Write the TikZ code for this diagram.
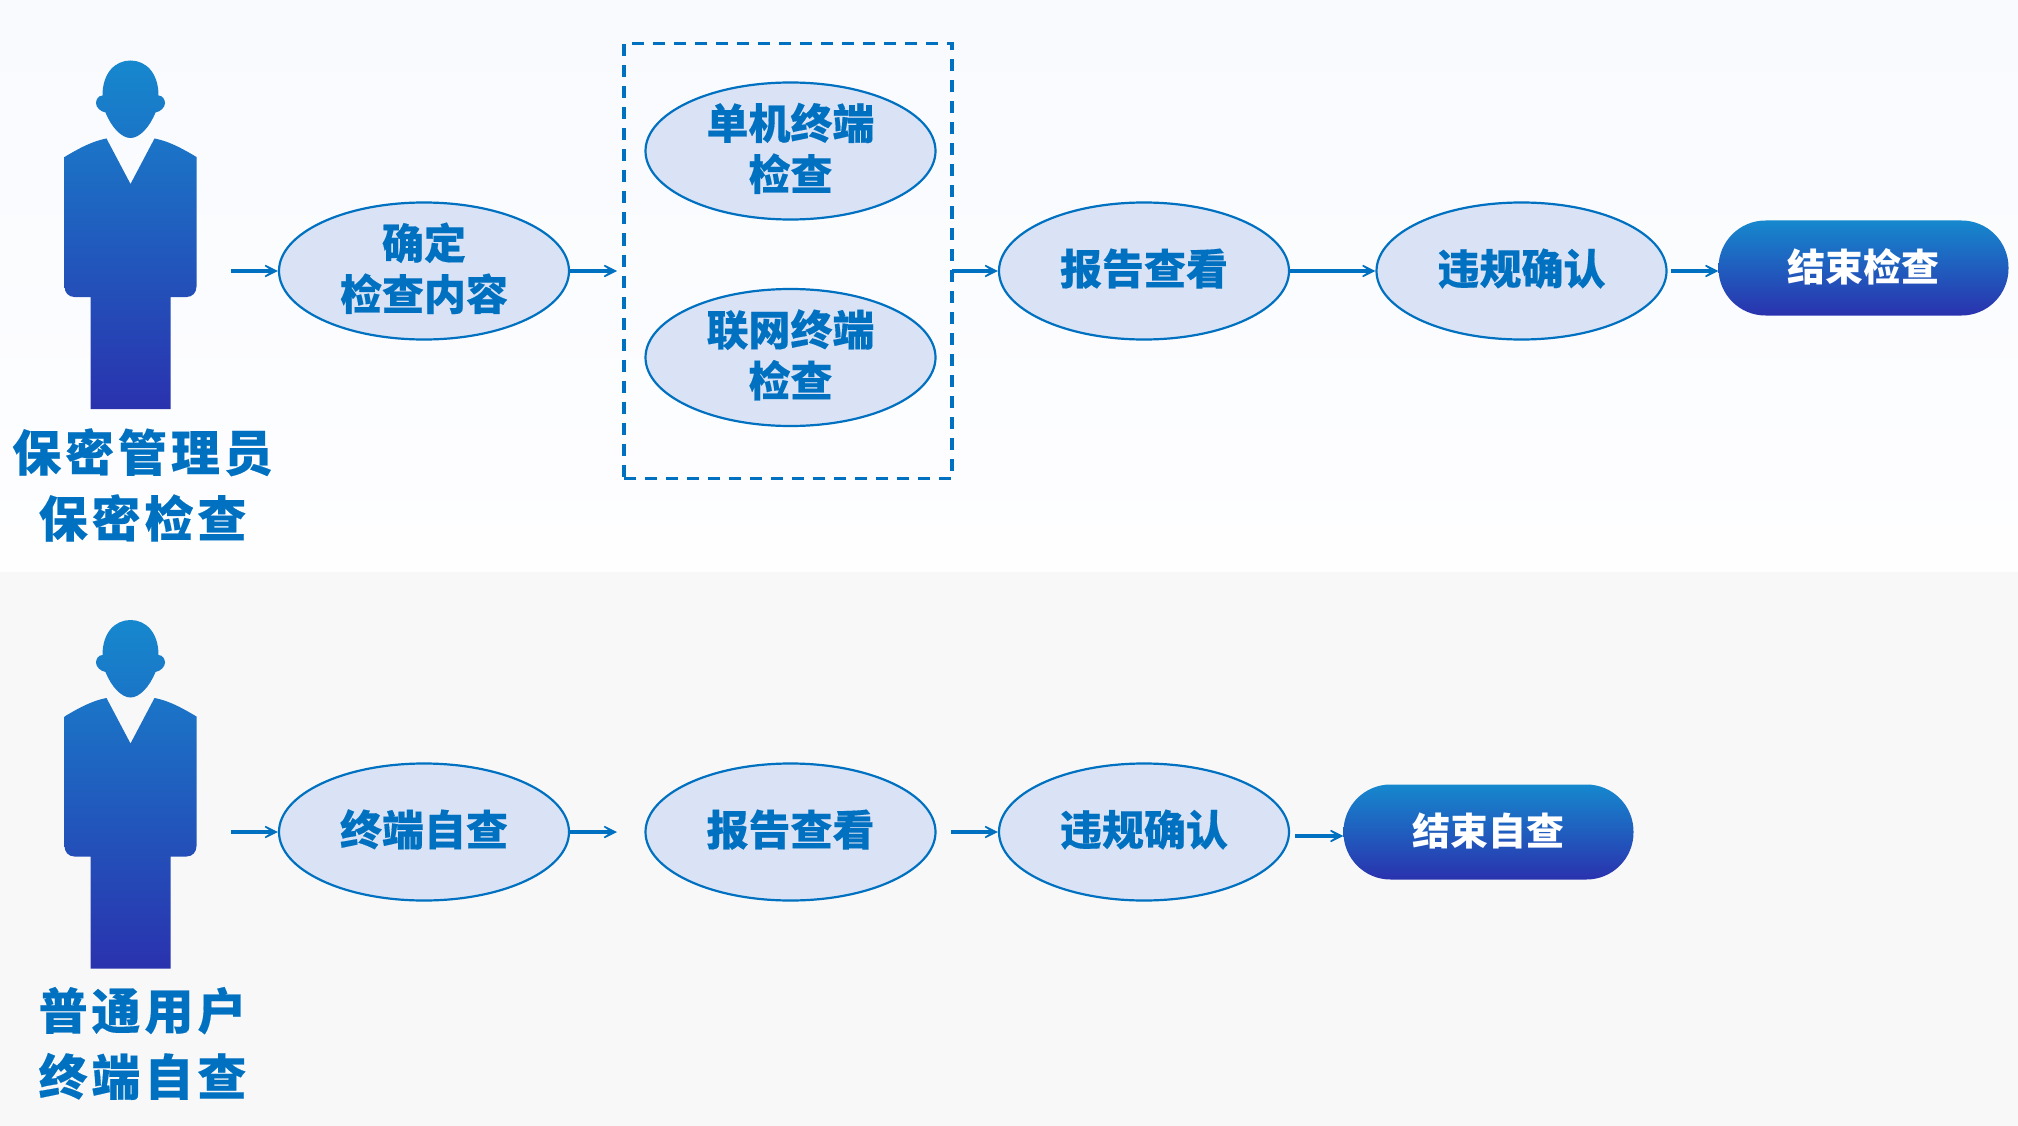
\documentclass[tikz,border=0pt]{standalone}
\usepackage{fontspec}
\setmainfont{Noto Sans CJK SC}
\usetikzlibrary{arrows.meta,shapes.geometric}
\definecolor{blu}{HTML}{0070C0}
\definecolor{ovfill}{HTML}{DAE3F5}
\definecolor{gtop}{HTML}{1688CE}
\definecolor{gbot}{HTML}{2A32AE}
\definecolor{bgA}{HTML}{F8FAFE}
\definecolor{bgB}{HTML}{FEFEFF}
\definecolor{bgC}{HTML}{F8F8F8}
\tikzset{
  ovl/.style={ellipse,draw=blu,line width=2.2pt,fill=ovfill,minimum width=290pt,minimum height=137pt,inner sep=0pt,inner ysep=-32pt,text=blu,align=center,text height=30pt,text depth=3pt,font=\fontsize{42}{51}\selectfont\bfseries\addfontfeature{FakeBold=0.3}},
  ovltwo/.style={ovl,text height=80pt,text depth=2pt},
  pill/.style={rectangle,rounded corners=47pt,top color=gtop,bottom color=gbot,minimum width=290pt,minimum height=95pt,inner sep=0pt,text=white,text height=30pt,text depth=4pt,font=\fontsize{38}{46}\selectfont\bfseries},
  tag/.style={inner sep=0pt,text=blu,align=center,font=\fontsize{49}{66}\selectfont\bfseries\addfontfeature{LetterSpace=8,FakeBold=0.3}},
  flow/.style={draw=blu,line width=3.5pt,-{Stealth[length=22pt,width=22pt,inset=16pt]}},
  dashbox/.style={draw=blu,line width=3.2pt,dash pattern=on 12pt off 9pt},
  person/.pic={
    \shade[top color=gtop,bottom color=gbot]
      (-28,35) .. controls (-28,12) and (-15,0) .. (0,0) .. controls (15,0) and (28,12) .. (28,35)
      .. controls (32,35) and (34.5,39) .. (34.5,42.5) .. controls (34.5,47) and (30,51) .. (25,52)
      .. controls (19,67) and (9,77.5) .. (0,77.5) .. controls (-9,77.5) and (-19,67) .. (-25,52)
      .. controls (-30,51) and (-34.5,47) .. (-34.5,42.5) .. controls (-34.5,39) and (-32,35) .. (-28,35) -- cycle
      (-24,78) -- (0,123.5) -- (24,78) .. controls (40,81) and (55,90) .. (66,96.5)
      -- (66,226) .. controls (66,232) and (62,236.5) .. (56,236.5) -- (40,236.5) -- (40,348.5) -- (-40,348.5) -- (-40,236.5) -- (-56,236.5)
      .. controls (-62,236.5) and (-66,232) .. (-66,226) -- (-66,96.5) .. controls (-55,90) and (-40,81) .. (-24,78) -- cycle;
  }
}
\begin{document}
\begin{tikzpicture}[x=1pt,y=-1pt]
\useasboundingbox (0,0) rectangle (2018,1126);
\shade[top color=bgA,bottom color=bgB] (0,0) rectangle (2018,572);
\fill[bgC] (0,572) rectangle (2018,1126);

\pic at (130.5,60.5) {person};
\pic at (130.5,620) {person};
\node[tag] (t1) at (142.5,485) {保密管理员\\保密检查};
\node[tag] (t2) at (142.5,1043.5) {普通用户\\终端自查};

% top row
\node[dashbox,rectangle,minimum width=328pt,minimum height=435pt,inner sep=0pt] (box) at (788,261) {};
\node[ovltwo] (a1) at (424,271) {确定\\检查内容};
\node[ovltwo] (a2) at (790.5,151) {单机终端\\检查};
\node[ovltwo] (a3) at (790.5,357.5) {联网终端\\检查};
\node[ovl] (a4) at (1144,271) {报告查看};
\node[ovl] (a5) at (1521.5,271) {违规确认};
\node[pill] (a6) at (1863.5,268) {结束检查};
\coordinate (s1) at (231,271);
\coordinate (e2) at (617,271);
\coordinate (s3) at (952,271);
\coordinate (s5) at (1671,271);
\draw[flow] (s1) -- (a1.west);
\draw[flow] (a1.east) -- (e2);
\draw[flow] (s3) -- (a4.west);
\draw[flow] (a4.east) -- (a5.west);
\draw[flow] (s5) -- (a6.west |- s5);

% bottom row
\node[ovl] (b1) at (424,832) {终端自查};
\node[ovl] (b2) at (790.5,832) {报告查看};
\node[ovl] (b3) at (1144,832) {违规确认};
\node[pill] (b4) at (1488.5,832) {结束自查};
\coordinate (q1) at (231,832);
\coordinate (q2) at (617,832);
\coordinate (q3) at (951,832);
\coordinate (q4) at (1295,836);
\draw[flow] (q1) -- (b1.west);
\draw[flow] (b1.east) -- (q2);
\draw[flow] (q3) -- (b3.west);
\draw[flow] (q4) -- (b4.west |- q4);
\end{tikzpicture}
\end{document}
